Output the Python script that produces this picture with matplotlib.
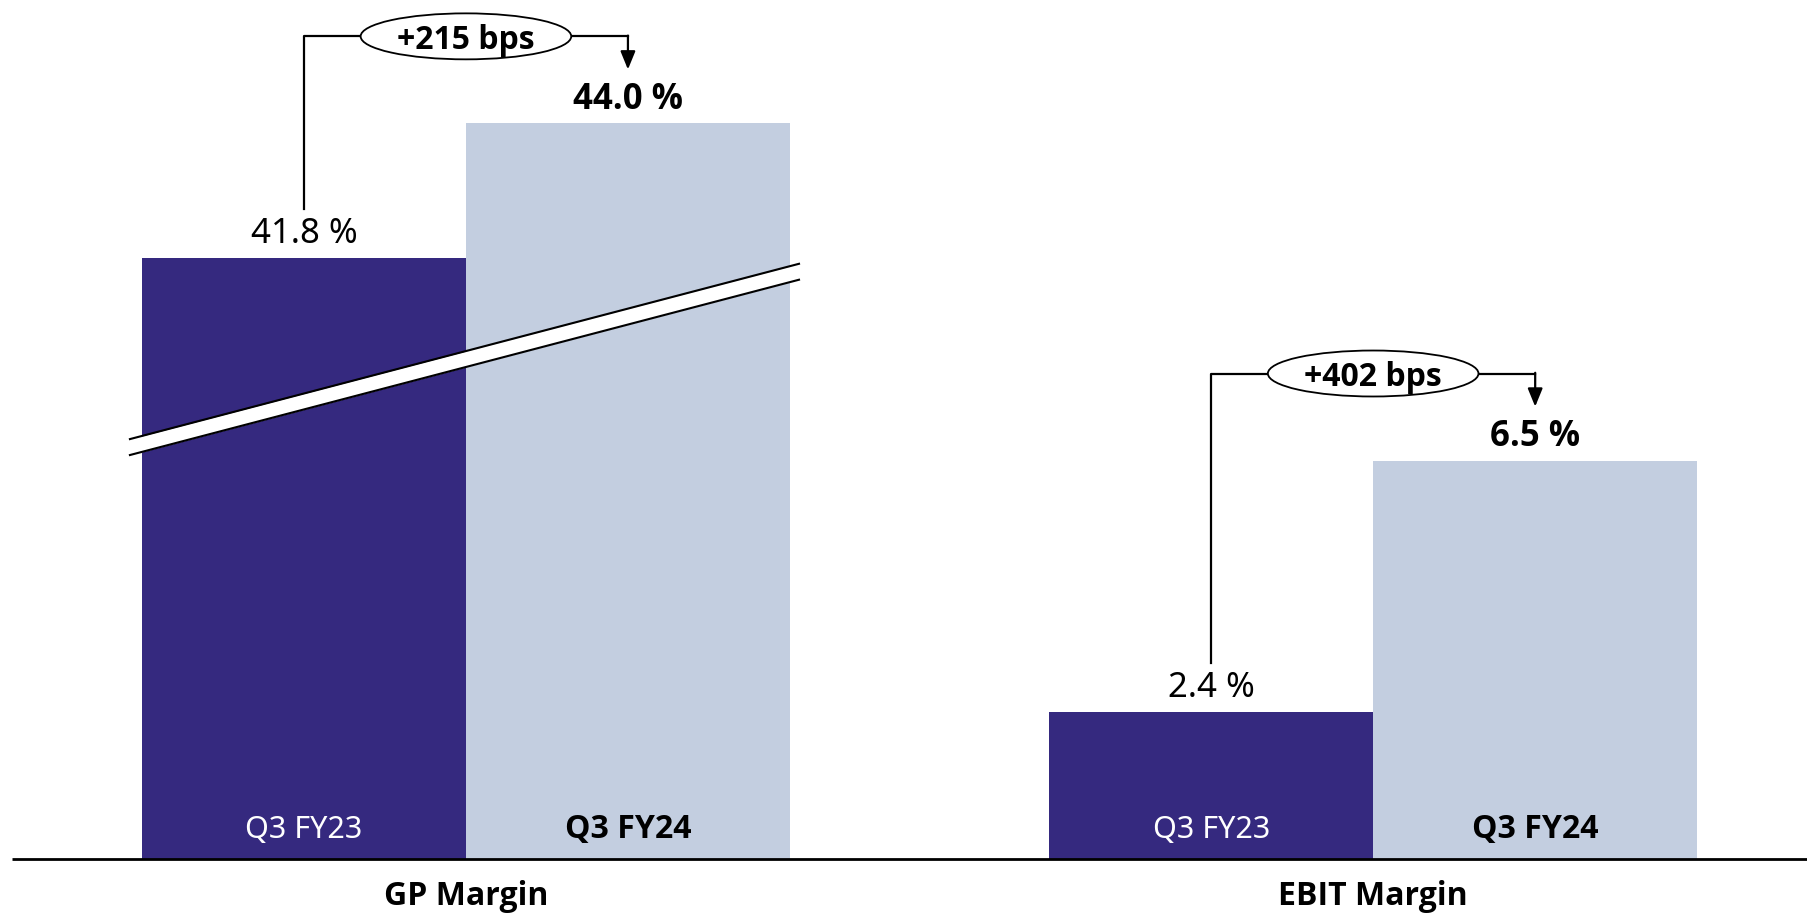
import matplotlib.pyplot as plt
from matplotlib.patches import Ellipse
import numpy as np

plt.rcParams['font.family'] = ['Noto Sans', 'DejaVu Sans']
BOLD_FAMILY = ['Open Sans', 'DejaVu Sans']

# ---- data ----
groups = ["GP Margin", "EBIT Margin"]
periods = ["Q3 FY23", "Q3 FY24"]
prev_vals = [41.8, 2.4]
curr_vals = [44.0, 6.5]
deltas = ["+215 bps", "+402 bps"]
# GP bars sit on a broken axis, drawn from this value upward
axis_floor = [32.0, 0.0]

DARK = "#35297f"
LIGHT = "#c3cee0"

fig = plt.figure(figsize=(18.08, 9.14), dpi=100)
ax = fig.add_axes([0, 0, 1, 1])
ax.set_xlim(-1.438, 4.142)
ax.set_ylim(-0.897, 14.013)
ax.axis("off")


def bold(x, y, s, size, **kw):
    ax.text(x, y, s, fontsize=size, fontweight="bold", family=BOLD_FAMILY, **kw)


centers = [0.0, 2.8]
for i, g in enumerate(groups):
    c = centers[i]
    h_prev = prev_vals[i] - axis_floor[i]
    h_curr = curr_vals[i] - axis_floor[i]
    ax.bar(c - 0.5, h_prev, width=1.0, color=DARK, zorder=1)
    ax.bar(c + 0.5, h_curr, width=1.0, color=LIGHT, zorder=1)

    # period names inside the bars
    ax.text(c - 0.5, 0.34, periods[0], ha="center", va="baseline",
            fontsize=22, color="white", zorder=5)
    bold(c + 0.5, 0.34, periods[1], 23, ha="center", va="baseline",
         color="black", zorder=5)

    # group name under the axis
    bold(c, -0.75, g, 23, ha="center", va="baseline")

    # value labels
    ax.text(c - 0.5, h_prev + 0.25, f"{prev_vals[i]:.1f} %", ha="center",
            va="baseline", fontsize=25)
    bold(c + 0.5, h_curr + 0.24, f"{curr_vals[i]:.1f} %", 25,
         ha="center", va="baseline")

    # change bracket with the bps oval
    y_br = h_curr + 1.42
    ax.plot([c - 0.5, c - 0.5, c + 0.5], [h_prev + 0.8, y_br, y_br],
            color="black", lw=1.6, zorder=3)
    ax.annotate("", xy=(c + 0.5, h_curr + 0.88), xytext=(c + 0.5, y_br + 0.012),
                arrowprops=dict(arrowstyle="-|>,head_length=1.1,head_width=0.45",
                                color="black", lw=1.6, shrinkA=0, shrinkB=0),
                zorder=3)
    ax.add_patch(Ellipse((c, y_br), 0.65, 0.75, facecolor="white",
                         edgecolor="black", lw=1.3, zorder=4))
    bold(c, y_br, deltas[i], 23, ha="center", va="center_baseline", zorder=5)

# axis break across the GP bars
bx = np.array([-1.037, 1.028])
by = np.array([6.72, 9.58])
gap = 0.13
ax.fill_between(bx, by - gap, by + gap, color="white", lw=0, zorder=2)
ax.plot(bx, by + gap, color="black", lw=1.5, zorder=2)
ax.plot(bx, by - gap, color="black", lw=1.5, zorder=2)

# baseline
ax.plot([-1.401, 4.142], [0, 0], color="black", lw=2.0, zorder=3,
        solid_capstyle="butt")

fig.savefig("out.png", dpi=100)
